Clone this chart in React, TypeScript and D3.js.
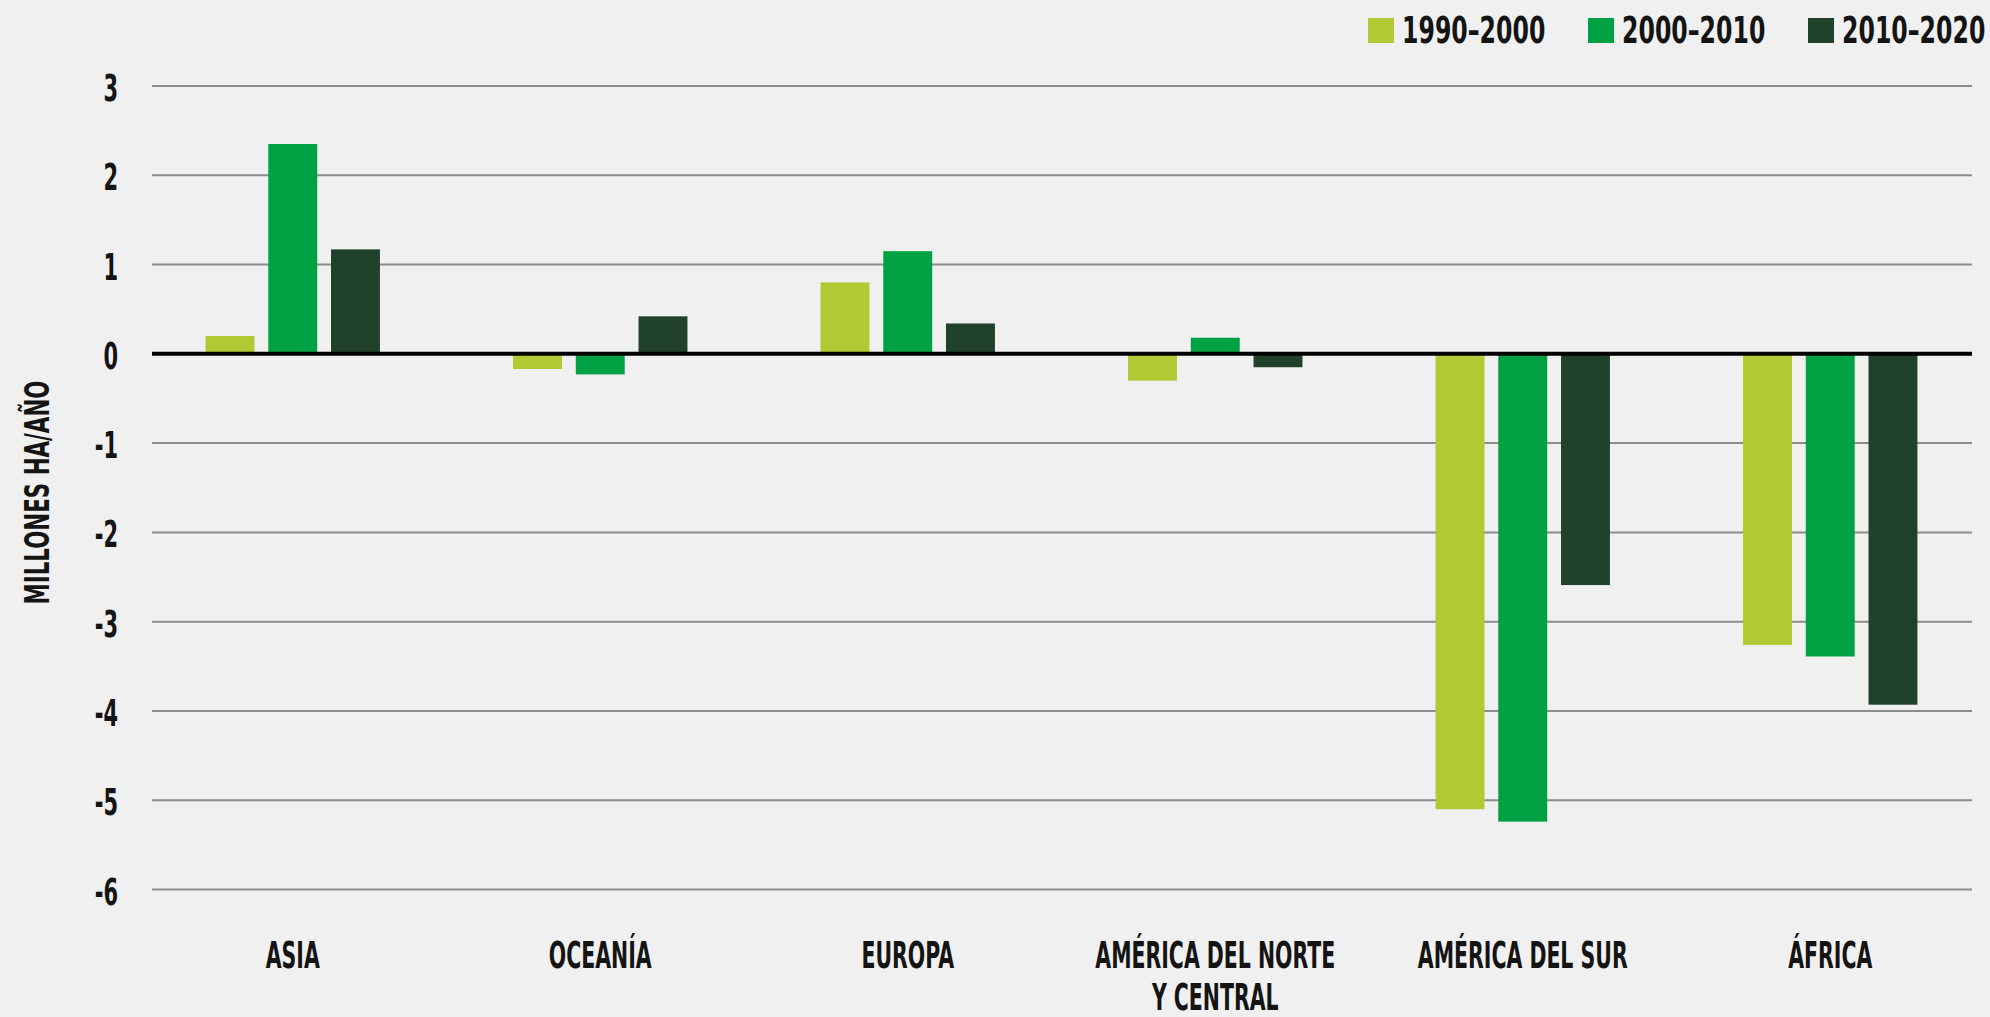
import React, { useEffect, useRef } from 'react'
import * as d3 from 'd3'

// regiones y periodos
const regions = ['ASIA', 'OCEANÍA', 'EUROPA', 'AMÉRICA DEL NORTE\nY CENTRAL', 'AMÉRICA DEL SUR', 'ÁFRICA']
const periods = ['1990–2000', '2000–2010', '2010–2020']

// cambio neto, millones ha/año
const values1990 = [0.2, -0.17, 0.8, -0.3, -5.1, -3.26]
const values2000 = [2.35, -0.23, 1.15, 0.18, -5.24, -3.39]
const values2010 = [1.17, 0.42, 0.34, -0.15, -2.59, -3.93]

const yTicks = [3, 2, 1, 0, -1, -2, -3, -4, -5, -6]
const colors = ['#b1c933', '#00a143', '#21422a']

const FONT = "'DejaVu Sans Condensed', 'DejaVu Sans', sans-serif"

const ForestChart = ({ width = 1990, height = 1017 }) => {
  const chartRef = useRef<HTMLDivElement>(null)

  useEffect(() => {
    const series = [values1990, values2000, values2010]
    const data = regions.flatMap((r, i) =>
      periods.map((p, j) => ({ region: r, period: p, value: series[j][i] }))
    )

    const xScale = d3.scaleBand().domain(regions).range([139, 1984]).padding(0)
    const x1 = d3.scaleBand().domain(periods).range([-87.2, 87.2]).paddingInner(0.22)
    const yScale = d3.scaleLinear().domain([-6, 3]).range([889.5, 86])
    const color = d3.scaleOrdinal<string>().domain(periods).range(colors)

    const svg = d3
      .select(chartRef.current)
      .append('svg')
      .attr('width', width)
      .attr('height', height)
      .style('display', 'block')

    svg.append('rect').attr('width', width).attr('height', height).attr('fill', '#f0f0f0')

    // líneas de cuadrícula
    svg
      .selectAll('.grid')
      .data(yTicks.filter((t) => t !== 0))
      .enter()
      .append('line')
      .attr('x1', 152)
      .attr('x2', 1972)
      .attr('y1', (d) => yScale(d))
      .attr('y2', (d) => yScale(d))
      .attr('stroke', '#8c8c8c')
      .attr('stroke-width', 2)

    // etiquetas eje y
    svg
      .selectAll('.ytick')
      .data(yTicks)
      .enter()
      .append('text')
      .attr('transform', (d) => `translate(118, ${yScale(d) + 15}) scale(0.63, 1)`)
      .attr('text-anchor', 'end')
      .attr('font-family', FONT)
      .attr('font-weight', 'bold')
      .attr('font-size', 37)
      .attr('fill', '#141414')
      .text((d) => String(d))

    svg
      .append('text')
      .attr('transform', `translate(49, 492.5) rotate(-90) scale(0.72, 1)`)
      .attr('text-anchor', 'middle')
      .attr('font-family', FONT)
      .attr('font-weight', 'bold')
      .attr('font-size', 33)
      .attr('fill', '#141414')
      .text('MILLONES HA/AÑO')

    // barras
    svg
      .selectAll('.bar')
      .data(data)
      .enter()
      .append('rect')
      .attr('x', (d) => xScale(d.region)! + xScale.bandwidth() / 2 + x1(d.period)!)
      .attr('y', (d) => yScale(Math.max(0, d.value)))
      .attr('width', x1.bandwidth())
      .attr('height', (d) => Math.abs(yScale(d.value) - yScale(0)))
      .attr('fill', (d) => color(d.period))

    // línea cero
    svg
      .append('line')
      .attr('x1', 152)
      .attr('x2', 1972)
      .attr('y1', yScale(0))
      .attr('y2', yScale(0))
      .attr('stroke', '#000')
      .attr('stroke-width', 4)

    // etiquetas de regiones
    const labels = svg
      .selectAll('.xlabel')
      .data(regions)
      .enter()
      .append('g')
      .attr('transform', (d) => `translate(${xScale(d)! + xScale.bandwidth() / 2}, 968)`)
    labels
      .selectAll('text')
      .data((d) => d.split('\n'))
      .enter()
      .append('text')
      .attr('transform', (d, i) => `translate(0, ${i * 42}) scale(0.615, 1)`)
      .attr('text-anchor', 'middle')
      .attr('font-family', FONT)
      .attr('font-weight', 'bold')
      .attr('font-size', 37)
      .attr('fill', '#141414')
      .text((d) => d)

    // leyenda
    const legend = svg
      .selectAll('.legend')
      .data(periods)
      .enter()
      .append('g')
      .attr('transform', (d, i) => `translate(${1368 + i * 220}, 0)`)
    legend
      .append('rect')
      .attr('y', 18)
      .attr('width', 26)
      .attr('height', 25)
      .attr('fill', (d) => color(d))
    legend
      .append('text')
      .attr('transform', 'translate(34, 43) scale(0.71, 1)')
      .attr('font-family', FONT)
      .attr('font-weight', 'bold')
      .attr('font-size', 37)
      .attr('fill', '#141414')
      .text((d) => d)

    return () => {
      d3.select(chartRef.current).selectAll('*').remove()
    }
  }, [width, height])

  return <div ref={chartRef} style={{ position: 'absolute', left: 0, top: 0 }}></div>
}

export default function App() {
  return <ForestChart />
}
